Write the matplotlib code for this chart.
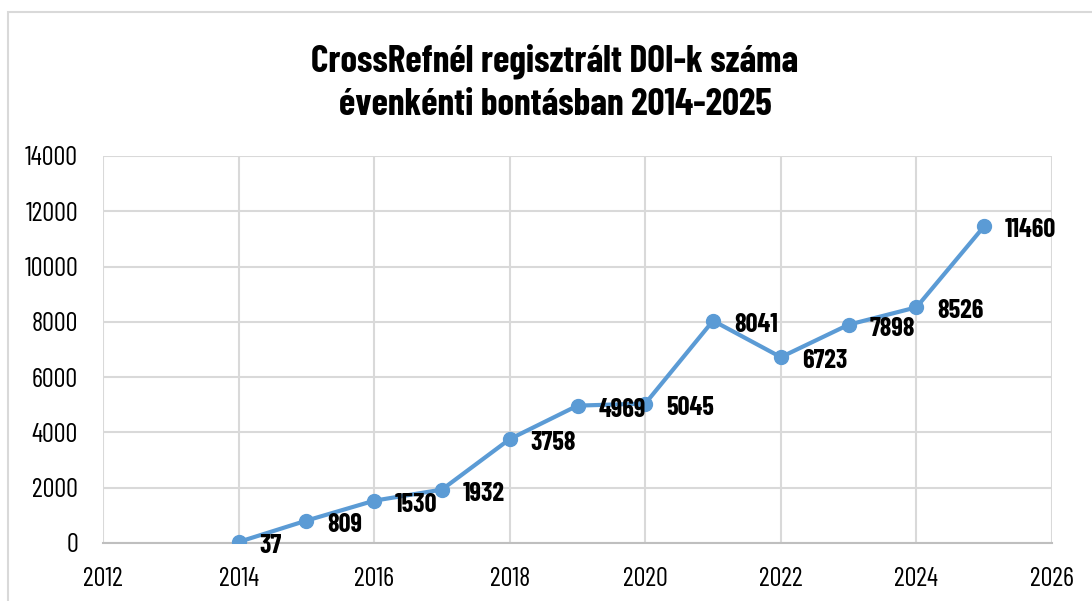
import matplotlib

matplotlib.use("Agg")
import matplotlib.pyplot as plt
from matplotlib.patches import Rectangle

# Data
years = [2014, 2015, 2016, 2017, 2018, 2019, 2020, 2021, 2022, 2023, 2024, 2025]
dois = [37, 809, 1530, 1932, 3758, 4969, 5045, 8041, 6723, 7898, 8526, 11460]
x_ticks = [2012, 2014, 2016, 2018, 2020, 2022, 2024, 2026]
y_ticks = [0, 2000, 4000, 6000, 8000, 10000, 12000, 14000]
title = "CrossRefnél regisztrált DOI-k száma\névenkénti bontásban 2014-2025"

plt.rcParams["font.family"] = ["Barlow Condensed", "DejaVu Sans"]

fig = plt.figure(figsize=(10.92, 6.01), dpi=100)
fig.patches.append(Rectangle((8 / 1092, -0.1), 1.2, 1.1 - 12 / 601,
                             transform=fig.transFigure, fill=False,
                             edgecolor="#d9d9d9", linewidth=1.5))
ax = fig.add_axes([103 / 1092, 1 - 543 / 601, (1052 - 103) / 1092, (543 - 156) / 601])

ax.plot(years, dois, color="#5b9bd5", linewidth=3, marker="o", markersize=10, zorder=3)
for x, y in zip(years, dois):
    ax.annotate(str(y), (x, y), xytext=(15, -3), textcoords="offset points",
                ha="left", va="center", fontsize=19, fontweight="bold", zorder=4)

ax.set_xlim(2012, 2026)
ax.set_ylim(0, 14000)
ax.set_xticks(x_ticks)
ax.set_yticks(y_ticks)
ax.tick_params(axis="both", length=0, labelsize=19)
ax.tick_params(axis="y", pad=18)
ax.tick_params(axis="x", pad=17)
ax.grid(True, color="#d9d9d9", linewidth=1.5)
ax.set_axisbelow(True)
for s in ["top", "right", "left"]:
    ax.spines[s].set_visible(False)
ax.spines["bottom"].set_color("#bfbfbf")
ax.spines["bottom"].set_linewidth(1.5)

fig.text(555 / 1092, 0.862, title, ha="center", va="center", fontsize=27,
         fontweight="bold", linespacing=1.35)

fig.savefig("out.png", dpi=100)
